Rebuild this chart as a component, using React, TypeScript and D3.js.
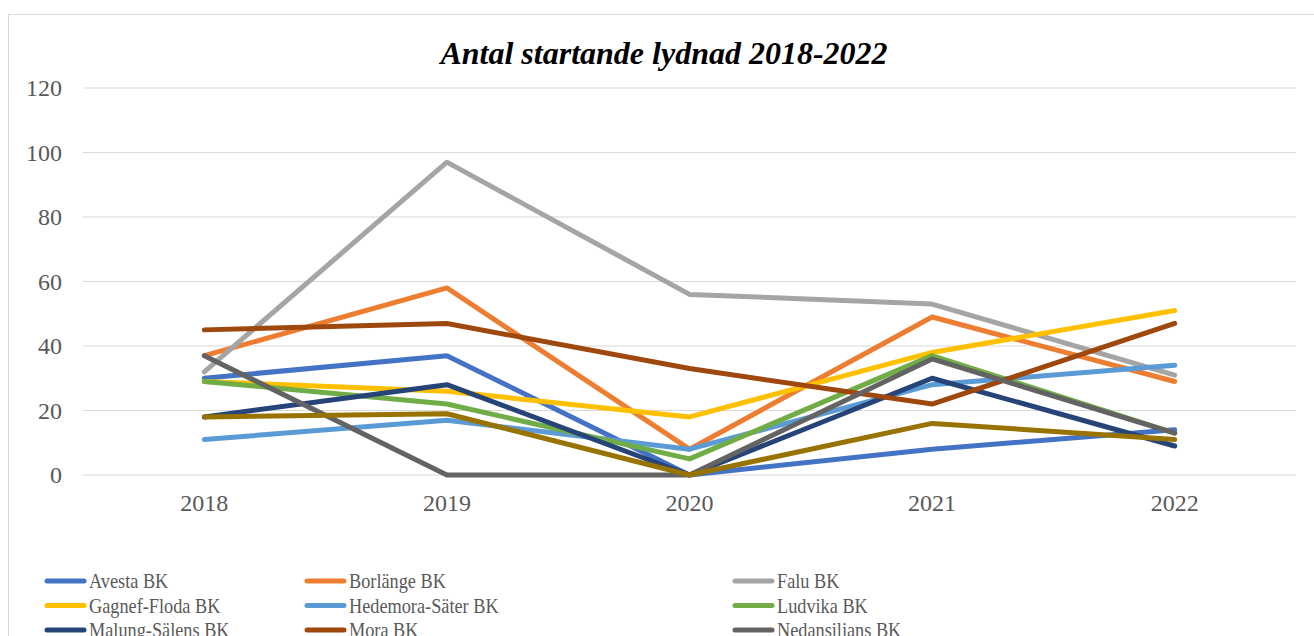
import React from "react";
import * as d3 from "d3";

const years = ["2018", "2019", "2020", "2021", "2022"];
const yTicks = [0, 20, 40, 60, 80, 100, 120];

const seriesNames = [
  "Avesta BK",
  "Borlänge BK",
  "Falu BK",
  "Gagnef-Floda BK",
  "Hedemora-Säter BK",
  "Ludvika BK",
  "Malung-Sälens BK",
  "Mora BK",
  "Nedansiljans BK",
  "Orsa BK",
];

const avesta = [30, 37, 0, 8, 14];
const borlange = [37, 58, 8, 49, 29];
const falu = [32, 97, 56, 53, 31];
const gagnef = [29, 26, 18, 38, 51];
const hedemora = [11, 17, 8, 28, 34];
const ludvika = [29, 22, 5, 37, 13];
const malung = [18, 28, 0, 30, 9];
const mora = [45, 47, 33, 22, 47];
const nedansiljans = [37, 0, 0, 36, 13];
const orsa = [18, 19, 0, 16, 11];

const seriesValues = [avesta, borlange, falu, gagnef, hedemora, ludvika, malung, mora, nedansiljans, orsa];

const colors = [
  "#4472C4", "#ED7D31", "#A5A5A5", "#FFC000", "#5B9BD5",
  "#70AD47", "#264478", "#9E480E", "#636363", "#997300",
];

const W = 1314;
const H = 636;
const plotLeft = 83;
const plotRight = 1296;
const plotTop = 88;
const plotBottom = 475;
const serif: React.CSSProperties = { fontFamily: '"Liberation Serif", "DejaVu Serif", serif' };

export default function App() {
  const x = d3.scaleBand<string>().domain(years).range([plotLeft, plotRight]);
  const y = d3.scaleLinear().domain([0, 120]).range([plotBottom, plotTop]);
  const line = d3
    .line<number>()
    .x((_, i) => (x(years[i]) as number) + x.bandwidth() / 2)
    .y((v) => y(v));

  const legendCols = [45, 305, 733];
  const legendRows = [581, 605.5, 630];

  return (
    <svg
      width={W}
      height={H}
      style={{ position: "absolute", left: 0, top: 0, background: "#fff" }}
    >
      <rect x={8.5} y={14.5} width={W + 20} height={H + 20} fill="#fff" stroke="#D9D9D9" strokeWidth={1} />
      <text
        x={664}
        y={64}
        textAnchor="middle"
        fontSize={32}
        fontWeight="bold"
        fontStyle="italic"
        fill="#000"
        style={serif}
      >
        Antal startande lydnad 2018-2022
      </text>
      {yTicks.map((t) => (
        <g key={t}>
          <line x1={plotLeft} x2={plotRight} y1={y(t)} y2={y(t)} stroke="#D9D9D9" strokeWidth={1.2} />
          <text x={62} y={y(t) + 8} textAnchor="end" fontSize={24} fill="#595959" style={serif}>
            {t}
          </text>
        </g>
      ))}
      {years.map((yr) => (
        <text
          key={yr}
          x={(x(yr) as number) + x.bandwidth() / 2}
          y={511}
          textAnchor="middle"
          fontSize={24}
          fill="#595959"
          style={serif}
        >
          {yr}
        </text>
      ))}
      {seriesValues.map((vals, i) => (
        <path
          key={seriesNames[i]}
          d={line(vals) as string}
          fill="none"
          stroke={colors[i]}
          strokeWidth={5}
          strokeLinejoin="round"
          strokeLinecap="round"
        />
      ))}
      {seriesNames.map((name, i) => {
        const cx = legendCols[i % 3];
        const cy = i < 9 ? legendRows[Math.floor(i / 3)] : 654.5;
        return (
          <g key={name}>
            <line
              x1={cx + 2}
              x2={cx + 39}
              y1={cy}
              y2={cy}
              stroke={colors[i]}
              strokeWidth={5}
              strokeLinecap="round"
            />
            <text
              transform={`translate(${cx + 44},${cy + 7}) scale(0.87,1)`}
              fontSize={21}
              fill="#595959"
              style={serif}
            >
              {name}
            </text>
          </g>
        );
      })}
    </svg>
  );
}
